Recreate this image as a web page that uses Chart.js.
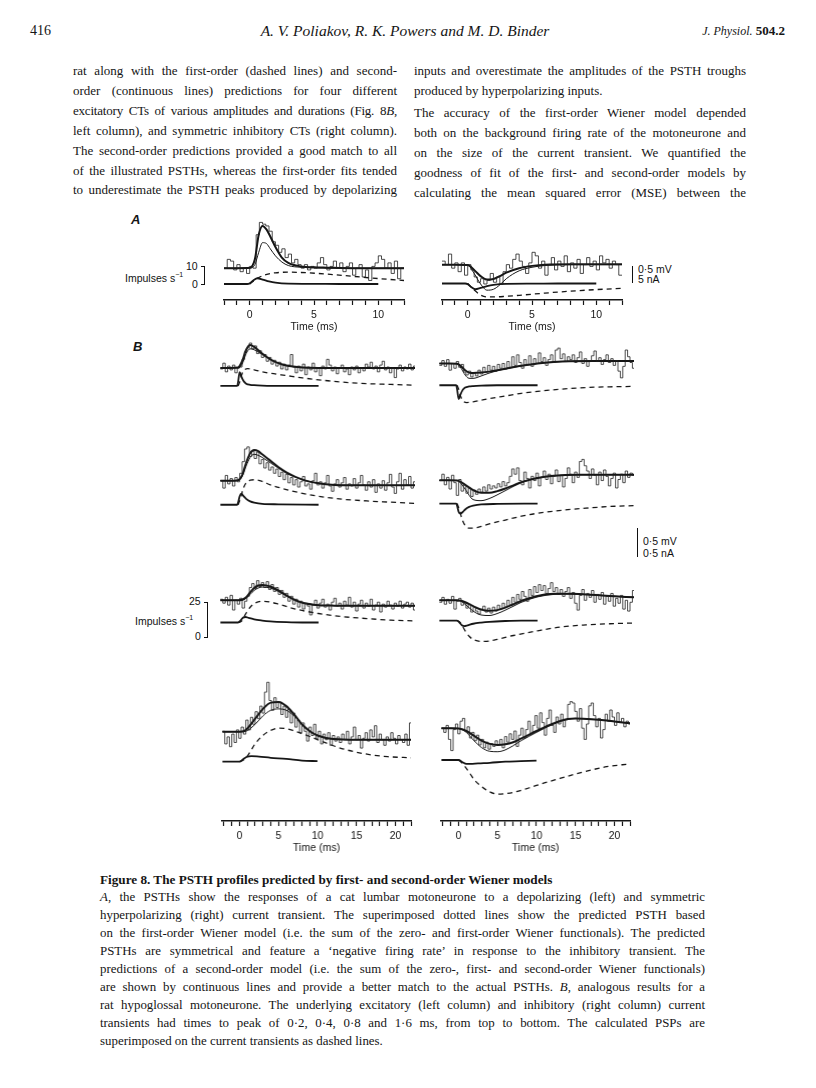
<!DOCTYPE html>
<html>
<head>
<meta charset="utf-8">
<script src="https://cdn.jsdelivr.net/npm/chart.js"></script>
<style>
html, body { margin: 0; padding: 0; background: #fff; }
#page { position: relative; width: 816px; height: 1088px; overflow: hidden; background: #fff; color: #151515;
        font-family: "Liberation Serif", "Times New Roman", serif; }
.ln { position: absolute; font-size: 13px; line-height: 16px; text-align: justify; text-align-last: justify; }
.cap { position: absolute; left: 100px; width: 605px; font-size: 12.9px; line-height: 15px; text-align: justify; text-align-last: justify; }
.lbl { position: absolute; font-family: "Liberation Sans", Arial, sans-serif; font-size: 10.5px; line-height: 12px; color: #111; white-space: nowrap; }
.panel { position: absolute; font-family: "Liberation Sans", Arial, sans-serif; font-weight: bold; font-style: italic; font-size: 13px; }
.brk { position: absolute; border: 1.3px solid #111; border-left: none; width: 3px; }
.bar { position: absolute; border-left: 1.4px solid #111; width: 0; }
canvas { position: absolute; }
</style>
</head>
<body>
<div id="page">
  <!-- running head -->
  <div style="position:absolute;left:30px;top:23px;font-size:14px;">416</div>
  <div style="position:absolute;left:0;width:810px;top:22px;text-align:center;font-size:15.5px;font-style:italic;">A. V. Poliakov, R. K. Powers and M. D. Binder</div>
  <div style="position:absolute;right:31px;top:23px;font-size:13px;"><i style="font-size:12px">J. Physiol.</i> <b>504.2</b></div>

  <!-- body text, left column -->
  <div class="ln" style="left:73px;width:324px;top:63px">rat along with the first-order (dashed lines) and second-</div>
  <div class="ln" style="left:73px;width:324px;top:83px">order (continuous lines) predictions for four different</div>
  <div class="ln" style="left:73px;width:324px;top:103px;letter-spacing:-0.2px">excitatory CTs of various amplitudes and durations (Fig. 8<i>B</i>,</div>
  <div class="ln" style="left:73px;width:324px;top:123px">left column), and symmetric inhibitory CTs (right column).</div>
  <div class="ln" style="left:73px;width:324px;top:143px">The second-order predictions provided a good match to all</div>
  <div class="ln" style="left:73px;width:324px;top:163px">of the illustrated PSTHs, whereas the first-order fits tended</div>
  <div class="ln" style="left:73px;width:324px;top:182px">to underestimate the PSTH peaks produced by depolarizing</div>

  <!-- body text, right column -->
  <div class="ln" style="left:414px;width:332px;top:63px">inputs and overestimate the amplitudes of the PSTH troughs</div>
  <div class="ln" style="left:414px;width:332px;top:83px;text-align-last:left">produced by hyperpolarizing inputs.</div>
  <div class="ln" style="left:414px;width:332px;top:105px">The accuracy of the first-order Wiener model depended</div>
  <div class="ln" style="left:414px;width:332px;top:125px">both on the background firing rate of the motoneurone and</div>
  <div class="ln" style="left:414px;width:332px;top:145px">on the size of the current transient. We quantified the</div>
  <div class="ln" style="left:414px;width:332px;top:165px">goodness of fit of the first- and second-order models by</div>
  <div class="ln" style="left:414px;width:332px;top:185px">calculating the mean squared error (MSE) between the</div>

  <!-- figure labels -->
  <div class="panel" style="left:131px;top:212px">A</div>
  <div class="panel" style="left:133px;top:339px">B</div>

  <div class="lbl" style="left:125px;top:269px">Impulses s<sup style="font-size:7px">−1</sup></div>
  <div class="lbl" style="left:186px;top:260px">10</div>
  <div class="lbl" style="left:192px;top:278px">0</div>
  <div class="brk" style="left:201px;top:266px;height:17px"></div>

  <div class="bar" style="left:632px;top:266px;height:17px"></div>
  <div class="lbl" style="left:638px;top:263px">0·5 mV</div>
  <div class="lbl" style="left:638px;top:273px">5 nA</div>

  <div class="lbl" style="left:135px;top:612px">Impulses s<sup style="font-size:7px">−1</sup></div>
  <div class="lbl" style="left:189px;top:595px">25</div>
  <div class="lbl" style="left:195px;top:630px">0</div>
  <div class="brk" style="left:204px;top:602px;height:34px"></div>

  <div class="bar" style="left:637px;top:528px;height:29px"></div>
  <div class="lbl" style="left:643px;top:535px">0·5 mV</div>
  <div class="lbl" style="left:643px;top:547px">0·5 nA</div>

  <!-- caption -->
  <div class="cap" style="top:872px;font-weight:bold;text-align-last:left;font-size:13.2px">Figure 8. The PSTH profiles predicted by first- and second-order Wiener models</div>
  <div class="cap" style="top:890px"><i>A</i>, the PSTHs show the responses of a cat lumbar motoneurone to a depolarizing (left) and symmetric</div>
  <div class="cap" style="top:908px">hyperpolarizing (right) current transient. The superimposed dotted lines show the predicted PSTH based</div>
  <div class="cap" style="top:926px">on the first-order Wiener model (i.e. the sum of the zero- and first-order Wiener functionals). The predicted</div>
  <div class="cap" style="top:944px">PSTHs are symmetrical and feature a ‘negative firing rate’ in response to the inhibitory transient. The</div>
  <div class="cap" style="top:962px">predictions of a second-order model (i.e. the sum of the zero-, first- and second-order Wiener functionals)</div>
  <div class="cap" style="top:980px">are shown by continuous lines and provide a better match to the actual PSTHs. <i>B</i>, analogous results for a</div>
  <div class="cap" style="top:998px">rat hypoglossal motoneurone. The underlying excitatory (left column) and inhibitory (right column) current</div>
  <div class="cap" style="top:1016px">transients had times to peak of 0·2, 0·4, 0·8 and 1·6 ms, from top to bottom. The calculated PSPs are</div>
  <div class="cap" style="top:1034px;text-align-last:left">superimposed on the current transients as dashed lines.</div>
</div>

<script>
// PSTH bins (ms)
const aBinStart = -2, aBinWidth = 0.25;
const bBinStart = -2.2, bBinWidth = 0.3;

// ---- A, cat lumbar motoneurone ----
const aLeftPsth = [9,14,13,8,11,7,9,6,10,9,28,35,34,33,30,24,22,18,20,15,17,12,14,11,9,11,8,10,9,12,15,11,8,10,13,9,12,7,10,12,5,9,11,4,8,2,10,12,16,14,9,12,6,13,3,9];
const aRightPsth = [13,11,17,9,12,7,12,5,11,8,4,1,3,0,2,6,1,4,0,7,11,9,14,17,13,10,6,12,18,16,9,13,5,11,15,8,13,10,16,7,12,9,14,6,11,15,10,13,8,16,12,14,9,13,11,5];
const aLeftSmoothT = [-2,-1,0,0.4,0.7,1,1.3,1.6,2,2.5,3,4,5,6,8,10,12];
const aLeftSecond = [9,9,9.2,14,28,33,31,27,21,15,12,10,9.5,9.3,9,9,9];
const aLeftFirst = [9,9,9,11,18,23.5,23,20,16,12.5,10.5,9.5,9.2,9,9,9,9];
const aRightSmoothT = [-2,-1,0,0.5,1,1.5,2,2.5,3,4,5,6,8,10,12];
const aRightSecond = [11,11,10.8,8,4.5,2.5,2.8,4.5,6.5,9,10.3,11,11.2,11.2,11.2];
const aRightFirst = [11,11,10.8,6,0,-3.5,-3,-0.5,3,7.5,9.5,10.5,11,11,11];
const aCurT = [-2,-0.2,0,0.3,0.6,1,1.5,2,3,5,7,10];
const aLeftCurrent = [0,0,0.2,1.2,1.8,1.4,0.8,0.4,0.1,0.05,0,0];
const aRightCurrent = [0,0,-0.2,-1.2,-1.8,-1.4,-0.8,-0.4,-0.1,-0.05,0,0];
const aPspT = [0,0.5,1,1.5,2,3,4,6,8,10,12];
const aLeftPsp = [0,0.15,0.26,0.32,0.35,0.37,0.36,0.31,0.24,0.17,0.11];
const aRightPsp = [0,-0.2,-0.36,-0.42,-0.42,-0.4,-0.37,-0.3,-0.24,-0.19,-0.15];

// ---- B, rat hypoglossal motoneurone: left = excitatory, right = inhibitory ----
const bL1Psth = [12,18,9,15,11,16,8,13,14,22,30,34,39,33,36,28,31,24,27,20,24,17,21,15,19,12,17,11,16,27,14,8,15,10,17,6,14,11,18,9,13,5,15,12,22,16,10,14,7,13,16,9,12,6,14,11,15,8,13,10,17,14,19,12,15,9,16,20,11,14,8,13,3,12,16,10,14,12,17,11,15];
const bL2Psth = [17,10,22,14,19,12,20,16,24,35,47,49,40,45,38,44,33,37,29,34,27,30,24,28,21,25,18,23,15,20,13,18,11,16,21,12,14,9,17,24,13,16,10,15,22,12,7,14,18,11,15,20,9,14,12,19,10,15,22,13,8,16,11,18,6,14,10,17,8,15,23,11,5,16,24,9,18,13,21,10,16];
const bL3Psth = [18,14,20,12,22,7,17,13,19,9,16,21,30,34,29,37,31,35,30,36,28,33,26,30,23,27,20,24,16,21,13,18,10,16,8,14,11,2,12,17,9,14,18,10,13,7,15,19,11,14,8,16,12,20,10,15,6,13,17,9,14,11,18,7,12,15,5,13,10,16,12,8,14,11,16,9,13,15,10,14,7];
const bL4Psth = [16,7,12,5,14,8,17,11,19,14,24,17,26,21,30,25,34,29,44,51,38,31,40,33,37,28,34,26,32,22,29,19,24,15,22,16,9,19,13,21,11,16,7,14,10,15,6,13,9,12,8,14,10,16,7,12,19,10,13,4,11,15,9,17,12,20,8,14,10,6,12,9,15,11,7,13,10,8,14,6,22];
const bR1Psth = [15,20,14,21,10,17,12,19,13,16,8,5,9,3,7,4,10,6,13,8,15,10,14,9,16,12,17,11,19,13,24,15,26,18,12,21,16,25,14,22,17,28,19,23,15,21,26,18,31,33,22,27,19,24,21,26,18,23,29,17,22,14,20,25,30,19,23,16,21,26,18,22,15,20,9,2,14,31,24,18,12];
const bR2Psth = [16,22,12,19,8,21,14,2,17,6,12,4,9,1,7,3,8,5,10,6,12,8,11,9,13,10,15,11,14,20,27,22,28,16,12,24,18,9,20,16,23,11,19,25,17,22,13,20,26,15,21,10,18,28,22,14,24,19,34,36,30,25,18,27,21,12,24,16,26,20,11,18,23,9,17,22,14,25,19,23,21];
const bR3Psth = [13,18,11,16,12,19,6,14,17,10,13,7,11,3,8,4,1,6,9,3,7,2,8,4,10,6,12,8,15,10,18,13,21,16,24,19,14,26,20,29,23,31,25,30,22,27,33,24,28,21,26,19,24,28,17,23,12,5,20,26,15,22,18,25,13,21,16,23,11,19,14,22,9,17,12,20,6,15,4,13,25];
const bR4Psth = [17,14,19,9,1,16,20,13,22,24,15,18,10,14,8,12,5,9,3,7,2,6,4,8,5,9,3,11,7,13,9,15,4,12,17,10,16,22,13,19,26,17,28,21,12,24,30,19,14,25,20,27,18,23,34,36,35,29,22,31,17,9,20,33,35,26,18,24,10,16,27,22,30,25,19,28,21,24,18,22,20];

// model predictions (impulses/s): second-order (thick) and first-order (thin)
const bL1SmoothT = [-2.2,-1,0,0.5,1,1.5,2,3,4,5,6,8,10,12,15,18,22];
const bL1Second = [13,13,13.5,20,32,37,35,28,22,18,15.5,13.5,13,13,13,13,13];
const bL1First = [13,13,13,17,28,33,32,27,22,18,15.5,13.5,13,13,13,13,13];
const bL2SmoothT = [-2.2,-1,0,0.5,1,1.5,2,2.5,3,4,5,6,8,10,12,15,18,22];
const bL2Second = [17,17,17.5,22,34,43,46,45,42,36,30,25,18,14.5,13,12.6,12.6,12.6];
const bL2First = [17,17,17,21,31,39,42,41,39,34,29,24,18,14.5,13,12.6,12.6,12.6];
const bL3SmoothT = [-2.2,-1,0,0.5,1,1.5,2,2.5,3,4,5,6,7,8,10,12,15,18,22];
const bL3Second = [17,17,17,17.5,20,25,29.5,32,32.5,31,27,22,17.5,14.5,12,11.5,11.4,11.4,11.4];
const bL3First = [17,17,17,17,19,23,27,29.5,30.5,29.5,26,21.5,17.5,14.5,12,11.5,11.4,11.4,11.4];
const bL4SmoothT = [-2.2,-1,0,0.5,1,2,3,4,5,6,7,8,9,10,12,15,18,22];
const bL4Second = [15.7,15.7,15.7,16,18,25,32,36.5,37,34,28,21,16,13,10.5,10,10,10];
const bL4First = [15.7,15.7,15.7,15.7,16.5,21,27,31,32,31,27,21.5,16.5,13,10.5,10,10,10];
const bR1SmoothT = [-2.2,-1,0,0.5,1,1.5,2,3,4,5,6,8,10,12,14,17,22];
const bR1Second = [17,17,16.8,14,10,7.5,7,7.5,8.5,10,11.5,14.5,17,18.5,19.3,19.5,19.5];
const bR1First = [17,17,16.8,12,5,1.5,1.5,4,7,9.5,11.5,14.5,17,18.5,19.3,19.5,19.5];
const bR2SmoothT = [-2.2,-1,0,0.5,1,2,3,4,5,6,7,8,10,12,15,18,22];
const bR2Second = [16.2,16.2,16,14.5,12,7,4.5,4.5,6,8.5,11.5,14.5,18.5,20.5,21.5,21.5,21.5];
const bR2First = [16.2,16.2,16,13,8,-2,-3,-1,2.5,6.5,10.5,14,18.5,20.5,21.5,21.5,21.5];
const bR3SmoothT = [-2.2,-1,0,0.5,1,2,3,4,5,6,7,8,10,12,14,16,18,20,22];
const bR3Second = [15,15,15,14.5,13,9,5.5,4.3,5,7.5,11,14.5,19.5,21.6,21.6,21,20,19,18];
const bR3First = [15,15,15,14,11,4,0,-0.5,1.5,5,9,13,18.5,21,21.5,21,20,19,18];
const bR4SmoothT = [-2.2,-1,0,1,2,3,4,5,6,7,8,10,12,14,15,16,18,20,22];
const bR4Second = [17,17,16.8,15,11.5,8,5.8,5,5.5,7,9.5,15,20,23.5,24,23.8,23,21.8,20.5];
const bR4First = [17,17,16.8,14,8,3,0.5,0.2,1.5,4.5,8,14,19.5,23.5,24,23.8,23,21.8,20.5];

// current transients (nA)
const bCurFastT = [-2.2,-0.1,0,0.2,0.4,0.7,1,1.5,2,3,5,10];
const bL1Current = [0,0,0.1,0.36,0.25,0.12,0.06,0.03,0.02,0.01,0,0];
const bL2Current = [0,0,0.05,0.2,0.26,0.2,0.14,0.08,0.05,0.02,0.01,0];
const bR1Current = [0,0,-0.1,-0.36,-0.25,-0.12,-0.06,-0.03,-0.02,-0.01,0,0];
const bR2Current = [0,0,-0.05,-0.2,-0.24,-0.2,-0.14,-0.08,-0.05,-0.02,-0.01,0];
const bCurSlowT = [-2.2,0,0.3,0.6,0.9,1.3,2,3,4,6,8,10];
const bL3Current = [0,0,0.05,0.12,0.14,0.12,0.08,0.05,0.03,0.01,0,0];
const bR3Current = [0,0,-0.05,-0.12,-0.14,-0.12,-0.08,-0.05,-0.03,-0.01,0,0];
const bCurT4 = [-2.2,0,0.5,1,1.5,2.5,4,6,8,10];
const bL4Current = [0,0,0.05,0.09,0.1,0.09,0.07,0.05,0.02,0.01];
const bR4Current = [0,0,-0.04,-0.07,-0.07,-0.06,-0.05,-0.03,-0.02,-0.01];

// calculated PSPs (mV), dashed
const bPspT1 = [0,0.2,0.5,0.8,1.2,2,3,4,6,8,10,13,16,19,22];
const bL1Psp = [0,0.1,0.32,0.42,0.45,0.42,0.37,0.33,0.27,0.21,0.16,0.1,0.06,0.04,0.02];
const bR1Psp = [0,-0.1,-0.32,-0.42,-0.45,-0.43,-0.39,-0.35,-0.28,-0.21,-0.16,-0.1,-0.06,-0.04,-0.03];
const bPspT2 = [0,0.3,0.6,1,1.5,2,3,4,6,8,10,13,16,19,22];
const bL2Psp = [0,0.15,0.36,0.52,0.58,0.59,0.55,0.47,0.36,0.27,0.2,0.13,0.09,0.06,0.03];
const bR2Psp = [0,-0.15,-0.36,-0.52,-0.58,-0.58,-0.54,-0.48,-0.39,-0.3,-0.23,-0.16,-0.11,-0.07,-0.05];
const bPspT3 = [0,0.4,1,1.5,2,3,4,5,7,10,13,16,19,22];
const bL3Psp = [0,0.03,0.24,0.39,0.48,0.54,0.52,0.47,0.35,0.23,0.15,0.1,0.06,0.04];
const bR3Psp = [0,-0.05,-0.26,-0.4,-0.48,-0.53,-0.52,-0.48,-0.38,-0.26,-0.16,-0.11,-0.08,-0.06];
const bPspT4 = [0,0.5,1,1.5,2,3,4,5,6,7,9,11,13,15,17,19,22];
const bL4Psp = [0,0.03,0.1,0.21,0.32,0.47,0.56,0.6,0.59,0.55,0.45,0.34,0.24,0.17,0.12,0.09,0.07];
const bR4Psp = [0,-0.06,-0.15,-0.25,-0.35,-0.48,-0.57,-0.61,-0.6,-0.58,-0.5,-0.41,-0.33,-0.25,-0.18,-0.12,-0.07];

// where each panel sits on the page (px) and the scale of each trace
const A_AX = { xMin: -2, xMax: 12, width: 188, binStart: aBinStart, bin: aBinWidth, ratePx: 1.76, mvPx: 32, naPx: 3.2 };
const B_AX = { xMin: -2.25, xMax: 22, width: 194.5, binStart: bBinStart, bin: bBinWidth, ratePx: 1.4, mvPx: 56, naPx: 56 };

const panels = [
  { ax: A_AX, left: 220, top: 205, bottom: 300, axis: true, rateZero: 284, baseY: 284,
    psth: aLeftPsth, smoothT: aLeftSmoothT, second: aLeftSecond, first: aLeftFirst, curT: aCurT, cur: aLeftCurrent, pspT: aPspT, psp: aLeftPsp },
  { ax: A_AX, left: 437.5, top: 205, bottom: 300, axis: true, rateZero: 284, baseY: 283.5,
    psth: aRightPsth, smoothT: aRightSmoothT, second: aRightSecond, first: aRightFirst, curT: aCurT, cur: aRightCurrent, pspT: aPspT, psp: aRightPsp },
  { ax: B_AX, left: 220, top: 335, bottom: 440, rateZero: 401.3, baseY: 409.3,
    psth: bL1Psth, smoothT: bL1SmoothT, second: bL1Second, first: bL1First, curT: bCurFastT, cur: bL1Current, pspT: bPspT1, psp: bL1Psp },
  { ax: B_AX, left: 439, top: 335, bottom: 440, rateZero: 400.3, baseY: 408.3,
    psth: bR1Psth, smoothT: bR1SmoothT, second: bR1Second, first: bR1First, curT: bCurFastT, cur: bR1Current, pspT: bPspT1, psp: bR1Psp },
  { ax: B_AX, left: 220, top: 435, bottom: 570, rateZero: 519.3, baseY: 527.3,
    psth: bL2Psth, smoothT: bL2SmoothT, second: bL2Second, first: bL2First, curT: bCurFastT, cur: bL2Current, pspT: bPspT2, psp: bL2Psp },
  { ax: B_AX, left: 439, top: 435, bottom: 570, rateZero: 517.7, baseY: 525.7,
    psth: bR2Psth, smoothT: bR2SmoothT, second: bR2Second, first: bR2First, curT: bCurFastT, cur: bR2Current, pspT: bPspT2, psp: bR2Psp },
  { ax: B_AX, left: 220, top: 570, bottom: 680, rateZero: 637, baseY: 645,
    psth: bL3Psth, smoothT: bL3SmoothT, second: bL3Second, first: bL3First, curT: bCurSlowT, cur: bL3Current, pspT: bPspT3, psp: bL3Psp },
  { ax: B_AX, left: 439, top: 570, bottom: 680, rateZero: 634.3, baseY: 642.3,
    psth: bR3Psth, smoothT: bR3SmoothT, second: bR3Second, first: bR3First, curT: bCurSlowT, cur: bR3Current, pspT: bPspT3, psp: bR3Psp },
  { ax: B_AX, left: 220, top: 668, bottom: 821, axis: true, rateZero: 753.7, baseY: 761.7,
    psth: bL4Psth, smoothT: bL4SmoothT, second: bL4Second, first: bL4First, curT: bCurT4, cur: bL4Current, pspT: bPspT4, psp: bL4Psp },
  { ax: B_AX, left: 439, top: 668, bottom: 821, axis: true, rateZero: 752, baseY: 760,
    psth: bR4Psth, smoothT: bR4SmoothT, second: bR4Second, first: bR4First, curT: bCurT4, cur: bR4Current, pspT: bPspT4, psp: bR4Psp }
];

const AXIS_H = 33;
const INK = '#161616';

function pts(t, v) { return t.map((x, i) => ({ x: x, y: v[i] })); }
function bins(start, w, v) {
  const p = v.map((y, i) => ({ x: start + i * w, y: y }));
  p.push({ x: start + v.length * w, y: v[v.length - 1] });
  return p;
}
// hidden y scale so that value 0 lands on page row `zero`
function yScale(zero, px, p) {
  return { axis: 'y', display: false, min: (zero - p.bottom) / px, max: (zero - p.top) / px };
}

Chart.defaults.font.family = '"Liberation Sans", Arial, sans-serif';
Chart.defaults.color = INK;

panels.forEach(p => {
  const cv = document.createElement('canvas');
  const h = p.bottom - p.top + (p.axis ? AXIS_H : 0);
  cv.width = p.ax.width; cv.height = h;
  cv.style.left = p.left + 'px'; cv.style.top = p.top + 'px';
  cv.style.width = p.ax.width + 'px'; cv.style.height = h + 'px';
  document.getElementById('page').appendChild(cv);

  const smooth = { pointRadius: 0, cubicInterpolationMode: 'monotone', borderColor: INK, fill: false };
  new Chart(cv, {
    type: 'line',
    data: {
      datasets: [
        { data: bins(p.ax.binStart, p.ax.bin, p.psth), yAxisID: 'rate', stepped: true, borderWidth: 0.8, borderColor: '#1e1e1e', pointRadius: 0 },
        Object.assign({ data: pts(p.smoothT, p.first), yAxisID: 'rate', borderWidth: 1 }, smooth),
        Object.assign({ data: pts(p.smoothT, p.second), yAxisID: 'rate', borderWidth: 2 }, smooth),
        Object.assign({ data: pts(p.curT, p.cur), yAxisID: 'na', borderWidth: 1.8 }, smooth),
        Object.assign({ data: pts(p.pspT, p.psp), yAxisID: 'mv', borderWidth: 1.3, borderDash: [5, 4] }, smooth)
      ]
    },
    options: {
      responsive: false,
      animation: false,
      layout: { padding: 0, autoPadding: false },
      plugins: { legend: { display: false }, tooltip: { enabled: false } },
      scales: {
        x: {
          type: 'linear', display: !!p.axis, position: 'bottom',
          min: p.ax.xMin, max: p.ax.xMax,
          afterFit: s => { s.height = AXIS_H; },
          grid: { drawOnChartArea: false, drawTicks: true, tickLength: 5, tickColor: INK, tickWidth: 1.2 },
          border: { display: true, color: INK, width: 1.5 },
          ticks: { stepSize: 1, includeBounds: false, autoSkip: false, maxRotation: 0, padding: 4,
                   font: { size: 10.5 }, color: INK,
                   callback: v => (Math.abs(v % 5) < 1e-6 ? String(Math.round(v)) : '') },
          title: { display: true, text: 'Time (ms)', padding: { top: 0, bottom: 0 }, font: { size: 10.5 }, color: INK }
        },
        rate: yScale(p.rateZero, p.ax.ratePx, p),
        mv: yScale(p.baseY, p.ax.mvPx, p),
        na: yScale(p.baseY, p.ax.naPx, p)
      }
    }
  });
});
</script>
</body>
</html>
